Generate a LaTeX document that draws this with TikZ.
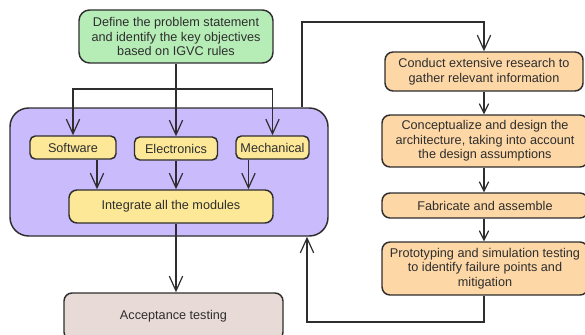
\documentclass[tikz,border=0pt]{standalone}
\usepackage{fontspec}
\setmainfont{Liberation Sans}
\usetikzlibrary{arrows.meta}
\definecolor{inkgray}{HTML}{2E2E2E}
\definecolor{goalgreen}{HTML}{B6EDB6}
\definecolor{modlilac}{HTML}{CABBFD}
\definecolor{modyellow}{HTML}{FDE898}
\definecolor{steporange}{HTML}{FDD7A6}
\definecolor{testrose}{HTML}{E8DBD7}

\begin{document}
\begin{tikzpicture}[x=0.75pt, y=-0.75pt,
    every node/.style={font=\fontsize{9.5}{11}\selectfont, text=inkgray},
    box/.style={draw=inkgray, line width=1.1pt, align=center, inner sep=1pt},
    arr/.style={draw=inkgray, line width=0.9pt, -{Straight Barb[length=11pt,width=10pt,line width=0.9pt]}},
    shortarr/.style={arr, -{Straight Barb[length=7pt,width=7pt,line width=0.9pt]}},
    line/.style={draw=inkgray, line width=0.9pt}]
\useasboundingbox (0,0) rectangle (585,335);

% Problem statement
\node[box, fill=goalgreen, rounded corners=8pt, minimum width=145.5pt, minimum height=39.75pt] (goal) at (176,36.5)
    {Define the problem statement\\and identify the key objectives\\based on IGVC rules};

% Module block with the three subsystems
\node[box, fill=modlilac, rounded corners=14pt, minimum width=238.5pt, minimum height=96pt] (modules) at (169,172) {};
\node[box, fill=modyellow, rounded corners=4pt, minimum width=64.5pt, minimum height=17.25pt] (soft) at (73,147.5) {Software};
\node[box, fill=modyellow, rounded corners=4pt, minimum width=62.25pt, minimum height=17.25pt] (elec) at (176,148.5) {Electronics};
\node[box, fill=modyellow, rounded corners=4pt, minimum width=54.75pt, minimum height=17.25pt] (mech) at (272.5,147.5) {Mechanical};
\node[box, fill=modyellow, rounded corners=6pt, minimum width=153pt, minimum height=24.75pt] (integ) at (171,206.5) {Integrate all the modules};

% Acceptance testing
\node[box, fill=testrose, rounded corners=6pt, minimum width=164.25pt, minimum height=35.25pt] (accept) at (173.5,316.5) {Acceptance testing};

% Design steps on the right
\node[box, fill=steporange, rounded corners=6pt, minimum width=148.5pt, minimum height=29.25pt] (research) at (484,71.5)
    {Conduct extensive research to\\gather relevant information};
\node[box, fill=steporange, rounded corners=6pt, minimum width=154.5pt, minimum height=39pt] (concept) at (485,141)
    {Conceptualize and design the\\architecture, taking into account\\the design assumptions};
\node[box, fill=steporange, rounded corners=6pt, minimum width=154.5pt, minimum height=18.75pt] (fab) at (485,205.5)
    {Fabricate and assemble};
\node[box, fill=steporange, rounded corners=6pt, minimum width=154.5pt, minimum height=39.75pt] (proto) at (485,268.5)
    {Prototyping and simulation testing\\to identify failure points and\\mitigation};

% Branching into the subsystems
\coordinate (split) at (176,89);
\coordinate (uploop) at (302,22);
\coordinate (backloop) at (307,322);
\draw[line] (goal) -- (split);
\draw[arr] (split) -| (soft);
\draw[arr] (split) -- (elec);
\draw[arr] (split) -| (mech);

% Subsystems into integration
\draw[arr] ([xshift=18pt]soft.south) -- ([xshift=18pt]soft.south |- integ.north);
\draw[arr] (elec.south) -- (elec.south |- integ.north);
\draw[arr] ([xshift=-18pt]mech.south) -- ([xshift=-18pt]mech.south |- integ.north);
\draw[arr] (integ.south -| split) -- (accept.north -| split);

% Design loop
\draw[arr] (uploop |- modules.north) |- (research.north |- uploop) -- (research.north);
\foreach \a/\b in {research/concept, concept/fab, fab/proto}
    \draw[shortarr] (\a.south -| research.south) -- (\b.north -| research.south);
\draw[arr] (proto.south -| research.south) |- (backloop) -- (backloop |- modules.south);
\end{tikzpicture}
\end{document}
